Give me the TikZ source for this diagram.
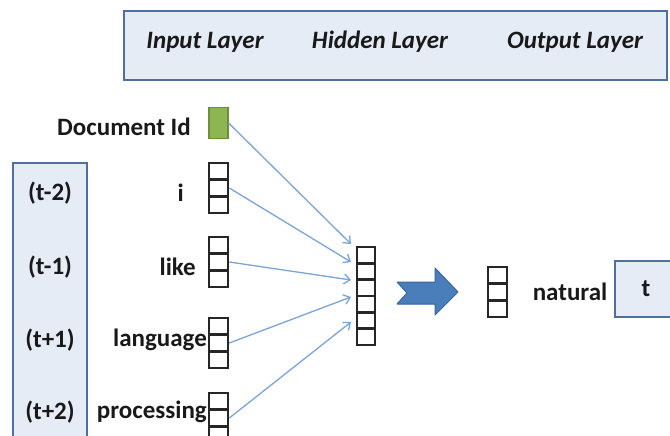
\documentclass[tikz,border=0pt]{standalone}
\usepackage{fontspec}
\setmainfont{Carlito}
\usetikzlibrary{arrows.meta,calc}
\definecolor{boxfill}{HTML}{E5ECF6}
\definecolor{boxline}{HTML}{4F6F9F}
\definecolor{conn}{HTML}{7BA4D4}
\definecolor{greenfill}{HTML}{8DB552}
\definecolor{greenline}{HTML}{6E8F3A}
\definecolor{arrowblue}{HTML}{4A7EBB}
\definecolor{arrowline}{HTML}{3A659A}
\begin{document}
\begin{tikzpicture}[x=1pt,y=-1pt,
  panel/.style={fill=boxfill,draw=boxline,line width=2.4pt,inner sep=0pt},
  lbl/.style={font=\fontsize{25}{29}\selectfont\bfseries,inner sep=0pt,text=black!90},
  toplbl/.style={font=\fontsize{25}{29}\selectfont\bfseries\itshape,inner sep=0pt,text=black!90},
  cellbox/.style={draw=black!85,line width=2.6pt,minimum width=19pt,inner sep=0pt},
  vecthree/.style={cellbox,minimum height=50pt,
    path picture={\foreach \k in {1,2}{
      \draw[draw=black!85,line width=2.6pt]
        ($(path picture bounding box.north west)!\k/3!(path picture bounding box.south west)$) --
        ($(path picture bounding box.north east)!\k/3!(path picture bounding box.south east)$);}}},
  vecsix/.style={cellbox,minimum width=18pt,minimum height=98pt,
    path picture={\foreach \k in {1,...,5}{
      \draw[draw=black!85,line width=2.6pt]
        ($(path picture bounding box.north west)!\k/6!(path picture bounding box.south west)$) --
        ($(path picture bounding box.north east)!\k/6!(path picture bounding box.south east)$);}}},
  link/.style={draw=conn,line width=1.3pt,-{Straight Barb[length=6pt,width=10pt]}}
]
\useasboundingbox (0,0) rectangle (670,436);

% top panel
\node[panel,minimum width=543pt,minimum height=69pt] (layers) at (395.5,45.5) {};
\node[toplbl] (inlbl) at (205,42) {Input Layer};
\node[toplbl] (hidlbl) at (380,42) {Hidden Layer};
\node[toplbl] (outlbl) at (575,42) {Output Layer};

% left panel (context positions)
\node[panel,minimum width=74pt,minimum height=290pt] (ctx) at (50,308) {};
\node[lbl] (p1) at (50,193) {(t-2)};
\node[lbl] (p2) at (50,267) {(t-1)};
\node[lbl] (p3) at (50,340) {(t+1)};
\node[lbl] (p4) at (50,412) {(t+2)};

% input words
\node[lbl,anchor=east] (wdoc) at (191,127) {Document Id};
\node[lbl,anchor=east] (wi) at (184,193) {i};
\node[lbl,anchor=east] (wlike) at (196,267) {like};
\node[lbl,anchor=east] (wlang) at (207,340) {language};
\node[lbl,anchor=east] (wproc) at (207,412) {processing};

% input vectors
\node[fill=greenfill,draw=greenline,line width=1.2pt,minimum width=19pt,minimum height=31pt,inner sep=0pt] (vdoc) at (218.5,123) {};
\node[vecthree] (vi) at (218.5,188) {};
\node[vecthree] (vlike) at (218.5,262) {};
\node[vecthree] (vlang) at (218.5,343) {};
\node[vecthree] (vproc) at (218.5,418) {};

% hidden vector
\node[vecsix] (hid) at (366,296) {};
\coordinate (a1) at (351,244);
\coordinate (a2) at (351,262);
\coordinate (a3) at (351,280);
\coordinate (a4) at (351,297);
\coordinate (a5) at (351,322);

\draw[link] (vdoc.east) -- (a1);
\draw[link] (vi.east) -- (a2);
\draw[link] (vlike.east) -- (a3);
\draw[link] (vlang.east) -- (a4);
\draw[link] (vproc.east) -- (a5);

% block arrow
\draw[fill=arrowblue,draw=arrowline,line width=1pt,line join=round]
  (397,282) -- (435,282) -- (435,268) -- (458,292) -- (435,315) -- (435,304) -- (397,304) -- (407,293) -- cycle;

% output
\node[vecthree] (vout) at (497.5,292) {};
\node[lbl] (wnat) at (570,292) {natural};
\node[panel,minimum width=70pt,minimum height=56pt] (tbox) at (650,289) {};
\node[lbl] (tlbl) at (646,289) {t};
\end{tikzpicture}
\end{document}
